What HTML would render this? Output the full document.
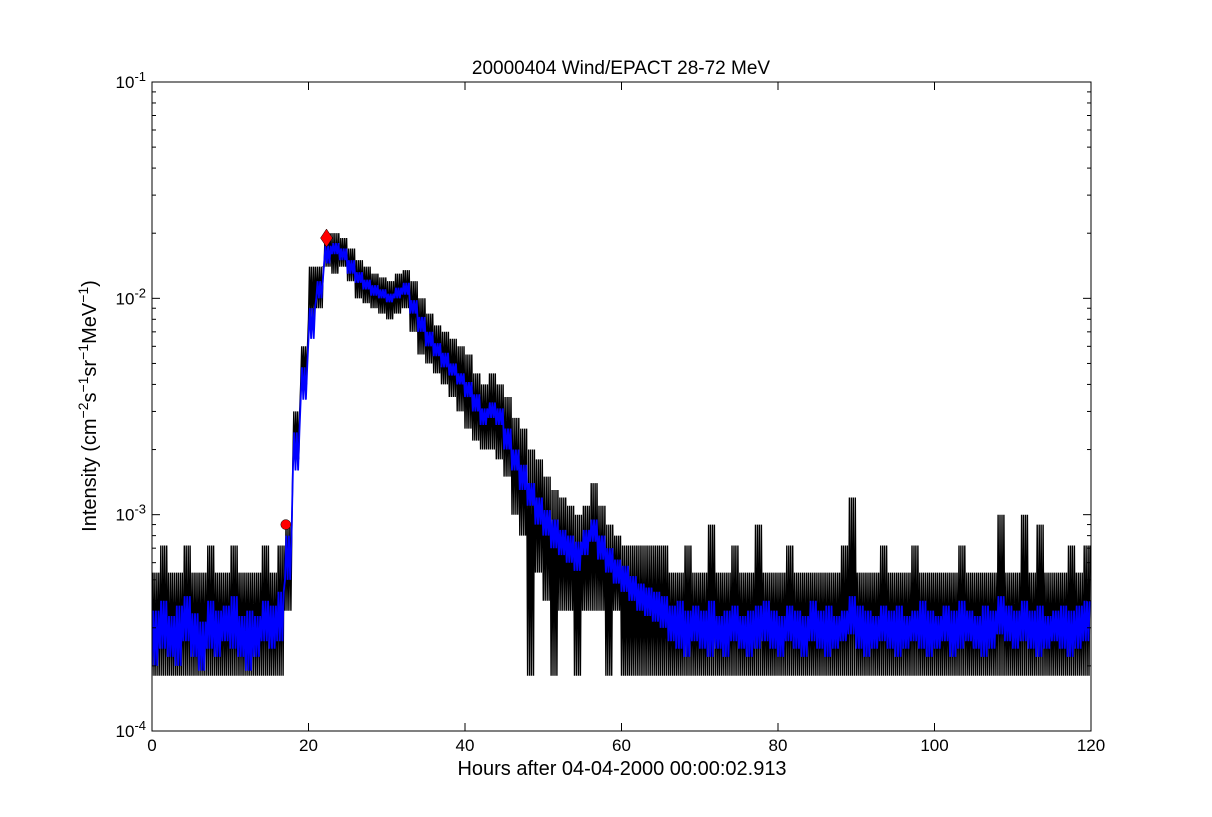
<!DOCTYPE html>
<html><head><meta charset="utf-8"><style>
body{margin:0;background:#fff;}
svg text{font-family:"Liberation Sans","DejaVu Sans",sans-serif;fill:#000;}
</style></head><body>
<svg id="chart" width="1212" height="812" xmlns="http://www.w3.org/2000/svg">
<rect width="1212" height="812" fill="#fff"/>
<text x="621" y="74" text-anchor="middle" font-size="19">20000404 Wind/EPACT 28-72 MeV</text>
<g id="data"></g>
<g id="axes"></g>
<text x="622" y="775" text-anchor="middle" font-size="20">Hours after 04-04-2000 00:00:02.913</text>
<text transform="translate(96,406) rotate(-90)" text-anchor="middle" font-size="20">Intensity (cm<tspan dy="-8" font-size="14">−2</tspan><tspan dy="8">s</tspan><tspan dy="-8" font-size="14">−1</tspan><tspan dy="8">sr</tspan><tspan dy="-8" font-size="14">−1</tspan><tspan dy="8">MeV</tspan><tspan dy="-8" font-size="14">−1</tspan><tspan dy="8">)</tspan></text>
</svg>
<script>
// values in units of 1e-4, one per hour (0..119)
const blackHi=[5.4,7.2,5.4,5.4,7.2,5.4,5.4,7.2,5.4,5.4,7.2,5.4,5.4,5.4,7.2,5.4,7.2,
9,30,60,140,140,200,200,190,170,150,140,130,125,120,130,135,120,100,85,75,70,65,60,55,45,40,45,40,35,28,25,20,18,15,13,12,11,10,11,14,11,9,8,7.2,7.2,7.2,7.2,7.2,7.2,
5.4,5.4,7.2,5.4,5.4,9,5.4,5.4,7.2,5.4,5.4,9,5.4,5.4,5.4,7.2,5.4,5.4,5.4,5.4,5.4,5.4,7.2,12,5.4,5.4,5.4,7.2,5.4,5.4,5.4,7.2,5.4,5.4,5.4,5.4,5.4,7.2,5.4,5.4,5.4,5.4,10,5.4,5.4,10,5.4,9,5.4,5.4,5.4,7.2,5.4,7.2];
const blackLo=[1.8,1.8,1.8,1.8,1.8,1.8,1.8,1.8,1.8,1.8,1.8,1.8,1.8,1.8,1.8,1.8,1.8,
3.6,18,40,80,90,140,130,140,120,100,95,90,85,80,85,90,70,55,50,45,40,35,30,25,22,20,20,18,15,10,8,1.8,5.4,4,1.8,3.6,3.6,1.8,3.6,3.6,3.6,1.8,3.6,1.8,1.8,1.8,1.8,1.8,1.8,
1.8,1.8,1.8,1.8,1.8,1.8,1.8,1.8,1.8,1.8,1.8,1.8,1.8,1.8,1.8,1.8,1.8,1.8,1.8,1.8,1.8,1.8,1.8,1.8,1.8,1.8,1.8,1.8,1.8,1.8,1.8,1.8,1.8,1.8,1.8,1.8,1.8,1.8,1.8,1.8,1.8,1.8,1.8,1.8,1.8,1.8,1.8,1.8,1.8,1.8,1.8,1.8,1.8,1.8];
const blueHi=[3.6,4,3.4,3.8,4.2,3.5,3.2,4,3.6,3.8,4.2,3.4,3.6,3.4,4,3.8,4.4,
8,24,48,90,120,175,180,170,150,132,122,115,110,105,112,118,98,82,70,62,56,50,45,41,36,31,33,31,25,20,17,14,12,10.5,9.5,8.5,8,7.5,8.5,9.5,8,7,6.2,5.8,5.2,4.8,4.6,4.4,4.2,
3.8,4,3.6,3.8,3.6,4,3.4,3.6,3.8,3.4,3.6,3.8,4,3.6,3.4,3.8,3.6,3.4,4,3.6,3.8,3.4,3.6,4.2,3.8,3.6,3.4,3.8,3.6,3.8,3.4,3.6,4,3.6,3.4,3.8,3.6,4,3.6,3.4,3.8,3.6,4.2,3.8,3.6,4,3.6,3.8,3.4,3.6,3.8,3.6,3.8,4];
const blueLo=[2,2.4,2.2,2,2.6,2.2,1.9,2.4,2.2,2.6,2.4,2.2,1.9,2.2,2.6,2.4,2.6,
5,16,34,65,100,145,160,150,130,118,110,103,100,96,100,104,85,70,60,54,48,44,40,35,30,26,28,26,20,16,13,11,9,8,7,6.5,6,5.5,6.5,7.5,6.2,5.4,4.8,4.4,4,3.6,3.4,3.2,3,
2.6,2.4,2.2,2.6,2.4,2.2,2.4,2.2,2.6,2.4,2.2,2.4,2.6,2.4,2.2,2.6,2.4,2.2,2.6,2.4,2.2,2.4,2.6,2.8,2.4,2.2,2.4,2.6,2.4,2.2,2.4,2.6,2.4,2.2,2.4,2.6,2.2,2.4,2.6,2.4,2.2,2.4,2.8,2.6,2.4,2.6,2.4,2.2,2.4,2.6,2.4,2.2,2.4,2.6];
const markerOnset=[17.1,9];   // hours, 1e-4 units
const markerPeak=[22.3,190];
const xTicks=[0,20,40,60,80,100,120];
const yDecades=[-4,-3,-2,-1];

const X0=152,X1=1091,Y0=731,Y1=82;
const xs=t=>X0+(t/120)*(X1-X0);
const ys=v=>Y0-(Math.log10(v*1e-4)+4)/3*(Y0-Y1);
const NS="http://www.w3.org/2000/svg";
const dataG=document.getElementById('data'),axG=document.getElementById('axes');
function mk(tag,attrs,parent){const e=document.createElementNS(NS,tag);for(const k in attrs)e.setAttribute(k,attrs[k]);parent.appendChild(e);return e;}

function zig(hi,lo,n){const p=[];for(let i=0;i<hi.length;i++){for(let k=0;k<n;k++){p.push([i+k/n,(k%2)?hi[i]:lo[i]]);}}
 return p.map((q,j)=>(j?'L':'M')+xs(q[0]).toFixed(1)+','+ys(q[1]).toFixed(1)).join('');}
const clip=mk('clipPath',{id:'pc'},dataG);mk('rect',{x:X0,y:Y1,width:X1-X0,height:Y0-Y1},clip);
const bl=mk('path',{d:zig(blackHi,blackLo,8),fill:'none',stroke:'#000','stroke-width':1.4,'clip-path':'url(#pc)'},dataG);


const bu=mk('path',{d:zig(blueHi,blueLo,6),fill:'none',stroke:'#0000ff','stroke-width':1.8,'clip-path':'url(#pc)'},dataG);


const c=mk('circle',{cx:xs(markerOnset[0]),cy:ys(markerOnset[1]),r:5,fill:'#ff0000',stroke:'#000','stroke-width':0.5},dataG);


const px=xs(markerPeak[0]),py=ys(markerPeak[1]);
const d=mk('polygon',{points:`${px},${py-9} ${px+6},${py} ${px},${py+9} ${px-6},${py}`,fill:'#ff0000',stroke:'#000','stroke-width':0.5},dataG);



mk('rect',{x:X0,y:Y1,width:X1-X0,height:Y0-Y1,fill:'none',stroke:'#000','stroke-width':1},axG);
xTicks.forEach(t=>{const x=xs(t);
 mk('line',{x1:x,x2:x,y1:Y0,y2:Y0-8,stroke:'#000'},axG);mk('line',{x1:x,x2:x,y1:Y1,y2:Y1+8,stroke:'#000'},axG);
 const tx=mk('text',{x:x,y:Y0+20,'text-anchor':'middle','font-size':17},axG);tx.textContent=t;
 
 });
yDecades.forEach((e,i)=>{const y=ys(Math.pow(10,e+4));
 mk('line',{x1:X0,x2:X0+8,y1:y,y2:y,stroke:'#000'},axG);mk('line',{x1:X1,x2:X1-8,y1:y,y2:y,stroke:'#000'},axG);
 const tx=mk('text',{x:X0-6,y:y+6,'text-anchor':'end','font-size':17},axG);
 tx.innerHTML='10<tspan dy="-7" font-size="13">'+e+'</tspan>';
 
 
 if(i<yDecades.length-1)for(let m=2;m<10;m++){const yy=ys(m*Math.pow(10,e+4));
  mk('line',{x1:X0,x2:X0+4,y1:yy,y2:yy,stroke:'#000'},axG);mk('line',{x1:X1,x2:X1-4,y1:yy,y2:yy,stroke:'#000'},axG);}});
</script>
</body></html>
